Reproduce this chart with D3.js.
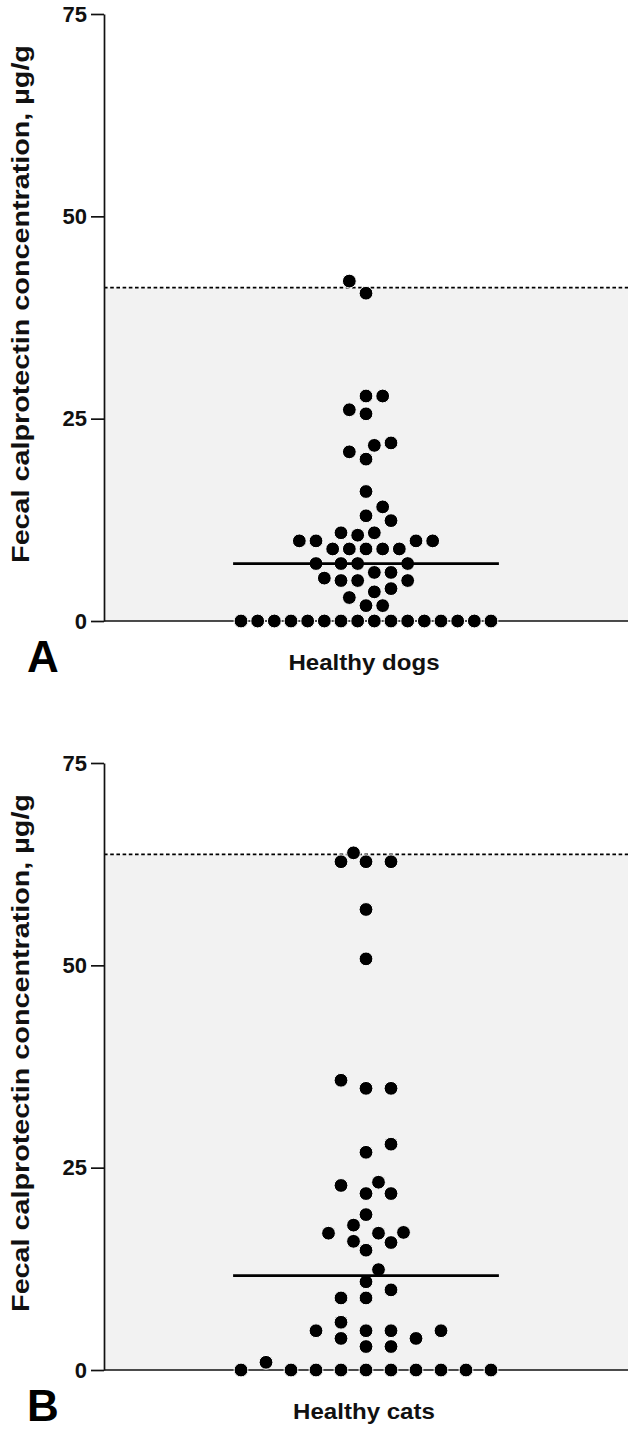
<!DOCTYPE html>
<html>
<head>
<meta charset="utf-8">
<script src="https://cdn.jsdelivr.net/npm/d3@7"></script>
<style>
  html, body { margin: 0; padding: 0; background: #fff; }
  svg { display: block; }
</style>
</head>
<body>
<svg id="chart" width="636" height="1433"></svg>
<script>
// ---------------- DATA ----------------
const yTicks = [0, 25, 50, 75];
const yTitle = "Fecal calprotectin concentration, µg/g";

const panelLetters = ["A", "B"];
const groupNames = ["Healthy dogs", "Healthy cats"];

// Fecal calprotectin (µg/g), healthy dogs
const dogValues = [
  0, 0, 0, 0, 0, 0, 0, 0, 0, 0, 0, 0, 0, 0, 0, 0,
  1.9, 1.9, 2.9, 3.6, 4.0,
  5.0, 5.3, 5.0, 5.0, 6.0, 6.0,
  7.1, 7.1, 7.1, 7.1,
  8.9, 8.9, 8.9, 8.9, 8.9,
  9.9, 9.9, 9.9, 9.9, 10.6, 10.9, 10.9,
  12.4, 13.0, 14.1, 16.0,
  20.0, 20.9, 21.7, 22.0,
  25.6, 26.1, 27.8, 27.8,
  40.5, 42.0
];

// Fecal calprotectin (µg/g), healthy cats
const catValues = [
  0, 0.95, 0, 0, 0, 0, 0, 0, 0, 0, 0,
  2.9, 2.9, 3.9, 3.9, 4.85, 4.85, 4.85, 4.85, 5.9,
  8.9, 8.9, 9.9, 10.9, 12.4,
  14.8, 15.75, 15.9, 16.9, 17.0, 16.9, 17.9, 19.2,
  21.8, 21.8, 22.8, 23.2,
  26.9, 27.9, 34.8, 34.8, 35.8,
  50.8, 56.9,
  62.8, 62.8, 62.8, 63.9
];

// Upper reference limits (dashed lines)
const refLimits = [41.2, 63.7];

const seriesValues = [dogValues, catValues];

// ---------------- LAYOUT ----------------
const svg = d3.select("#chart");
const panelOffsets = [0, 749];
const axisX = 104, plotRight = 628;
const yTop = 14, yBottom = 621;
const swarmCx = 366, swarmWidth = 250;
const dotR = 6.9;
const fontFam = "'Liberation Sans', Arial, Helvetica, sans-serif";

function swarm(values, y) {
  const gap = 2 * dotR + 1.4;
  const y0 = y(0);
  const pts = values.map((v, i) => ({ v, i, y: y(v), x: null }));
  const bottom = pts.filter(p => y0 - p.y < gap);
  const rest = pts.filter(p => y0 - p.y >= gap).sort((a, b) => a.v - b.v || a.i - b.i);
  const n0 = bottom.length;
  const s = swarmWidth / (n0 - 1);
  const h = s / 2;
  const placed = [];
  bottom.forEach((p, k) => { p.x = swarmCx + (k - (n0 - 1) / 2) * s; placed.push(p); });
  rest.forEach((p, idx) => {
    const cands = [0];
    for (let k = 1; k < 40; k++) {
      if (idx % 2 === 0) cands.push(-k * h, k * h); else cands.push(k * h, -k * h);
    }
    for (const off of cands) {
      const x = swarmCx + off;
      const ok = placed.every(q => (q.x - x) ** 2 + (q.y - p.y) ** 2 >= gap * gap);
      if (ok) { p.x = x; break; }
    }
    placed.push(p);
  });
  return pts;
}

seriesValues.forEach((vals, pi) => {
  const off = panelOffsets[pi];
  const g = svg.append("g").attr("transform", `translate(0,${off})`);
  const y = d3.scaleLinear().domain([0, 75]).range([yBottom, yTop]);

  // shaded reference region
  g.append("rect")
    .attr("x", axisX).attr("y", y(refLimits[pi]))
    .attr("width", plotRight - axisX)
    .attr("height", y(0) - y(refLimits[pi]))
    .attr("fill", "#f2f2f2");

  // dashed reference limit
  g.append("line")
    .attr("x1", axisX).attr("x2", plotRight)
    .attr("y1", y(refLimits[pi])).attr("y2", y(refLimits[pi]))
    .attr("stroke", "#000").attr("stroke-width", 1.7)
    .attr("stroke-dasharray", "3.6,2.6");

  // x axis baseline
  g.append("line")
    .attr("x1", axisX).attr("x2", plotRight)
    .attr("y1", y(0)).attr("y2", y(0))
    .attr("stroke", "#111").attr("stroke-width", 1.7);

  // y axis
  const ax = g.append("g").attr("transform", `translate(${axisX},0)`)
    .call(d3.axisLeft(y).tickValues(yTicks).tickSize(13).tickPadding(4).tickSizeOuter(0));
  ax.select(".domain").attr("stroke", "#111").attr("stroke-width", 1.7);
  ax.selectAll(".tick line").attr("stroke", "#111").attr("stroke-width", 1.7);
  ax.selectAll(".tick text")
    .attr("font-family", fontFam).attr("font-weight", "bold")
    .attr("font-size", 22).attr("fill", "#111");

  // dots
  const pts = swarm(vals, y);
  g.append("g").selectAll("circle").data(pts).join("circle")
    .attr("cx", d => d.x).attr("cy", d => d.y).attr("r", dotR)
    .attr("fill", "#000").attr("stroke", "#fff").attr("stroke-width", 1);

  // median line
  const med = d3.median(vals);
  g.append("line")
    .attr("x1", swarmCx - swarmWidth / 2 - dotR - 1)
    .attr("x2", swarmCx + swarmWidth / 2 + dotR + 1)
    .attr("y1", y(med)).attr("y2", y(med))
    .attr("stroke", "#000").attr("stroke-width", 2.8);

  // y title
  g.append("text")
    .attr("transform", `translate(28.5,304) rotate(-90) scale(1.25,1)`)
    .attr("text-anchor", "middle")
    .attr("font-family", fontFam).attr("font-weight", "bold")
    .attr("font-size", 23).attr("fill", "#111")
    .text(yTitle);

  // group label
  g.append("text")
    .attr("transform", `translate(364,${670}) scale(1.12,1)`)
    .attr("text-anchor", "middle")
    .attr("font-family", fontFam).attr("font-weight", "bold")
    .attr("font-size", 21.5).attr("fill", "#111")
    .text(groupNames[pi]);

  // panel letter
  g.append("text")
    .attr("x", 27).attr("y", 672)
    .attr("font-family", fontFam).attr("font-weight", "bold")
    .attr("font-size", 44).attr("fill", "#000")
    .text(panelLetters[pi]);
});
</script>
</body>
</html>
